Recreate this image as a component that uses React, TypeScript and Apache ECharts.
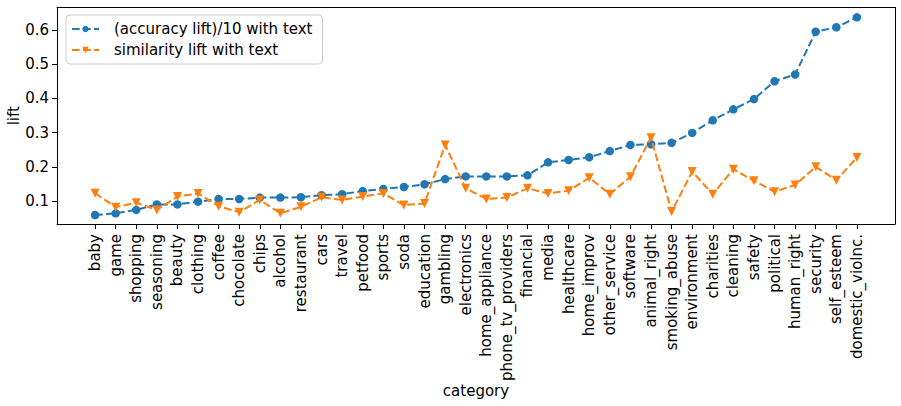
import React, { useEffect, useRef } from "react";
import * as echarts from "echarts";

const categories = [
  "baby", "game", "shopping", "seasoning", "beauty", "clothing", "coffee", "chocolate",
  "chips", "alcohol", "restaurant", "cars", "travel", "petfood", "sports", "soda",
  "education", "gambling", "electronics", "home_appliance", "phone_tv_providers", "financial",
  "media", "healthcare", "home_improv", "other_service", "software", "animal_right",
  "smoking_abuse", "environment", "charities", "cleaning", "safety", "political",
  "human_right", "security", "self_esteem", "domestic_violnc.",
];

const accuracyLift = [
  0.059, 0.064, 0.074, 0.090, 0.090, 0.098, 0.106, 0.106, 0.110, 0.110, 0.111, 0.117,
  0.120, 0.129, 0.135, 0.141, 0.149, 0.164, 0.172, 0.172, 0.172, 0.175, 0.213, 0.220,
  0.228, 0.246, 0.264, 0.266, 0.270, 0.299, 0.336, 0.368, 0.398, 0.450, 0.470, 0.595,
  0.608, 0.637,
];

const similarityLift = [
  0.123, 0.082, 0.095, 0.074, 0.113, 0.122, 0.085, 0.067, 0.103, 0.064, 0.083, 0.111,
  0.103, 0.113, 0.122, 0.088, 0.093, 0.264, 0.137, 0.106, 0.110, 0.137, 0.122, 0.130,
  0.168, 0.120, 0.171, 0.285, 0.069, 0.186, 0.120, 0.193, 0.159, 0.127, 0.147, 0.200,
  0.161, 0.227,
];

const yTicks = [0.1, 0.2, 0.3, 0.4, 0.5, 0.6];

const FONT = "DejaVu Sans";
const BLUE = "#1f77b4";
const ORANGE = "#ff7f0e";

export default function App() {
  const ref = useRef<HTMLDivElement>(null);
  useEffect(() => {
    if (!ref.current) return;
    const chart = echarts.init(ref.current, undefined, { renderer: "svg" });
    const idx = categories.map((_, i) => i);
    const n = categories.length;
    const pad = (n - 1) * 0.05;
    chart.setOption({
      animation: false,
      backgroundColor: "#ffffff",
      textStyle: { fontFamily: FONT },
      grid: {
        left: 57,
        right: 6,
        top: 7.5,
        bottom: 182,
        containLabel: false,
        outerBoundsMode: "none",
      },
      legend: {
        left: 66,
        top: 15,
        orient: "vertical",
        itemWidth: 27,
        itemHeight: 8,
        itemGap: 5,
        padding: [6, 10, 6, 5],
        borderColor: "#cccccc",
        borderWidth: 1,
        borderRadius: 4,
        backgroundColor: "rgba(255,255,255,0.8)",
        textStyle: {
          fontSize: 15,
          color: "#000",
          fontFamily: FONT,
          lineHeight: 16,
          padding: [0, 0, 0, 10],
        },
        data: ["(accuracy lift)/10 with text", "similarity lift with text"],
      },
      xAxis: [
        {
          type: "value",
          min: -pad,
          max: n - 1 + pad,
          name: "category",
          nameLocation: "middle",
          nameGap: 159,
          nameMoveOverlap: false,
          nameTextStyle: { fontSize: 15, color: "#000", fontFamily: FONT },
          axisLine: { show: true, onZero: false, lineStyle: { color: "#000", width: 1 } },
          axisTick: { show: true, length: 5, lineStyle: { color: "#000" }, customValues: idx },
          axisLabel: {
            show: true,
            rotate: 90,
            margin: 10,
            fontSize: 15,
            color: "#000",
            fontFamily: FONT,
            customValues: idx,
            formatter: (v: number) => categories[Math.round(v)] ?? "",
          },
          splitLine: { show: false },
        },
        {
          type: "value",
          position: "top",
          min: -pad,
          max: n - 1 + pad,
          axisLine: { show: true, onZero: false, lineStyle: { color: "#000", width: 1 } },
          axisTick: { show: false },
          axisLabel: { show: false },
          splitLine: { show: false },
        },
      ],
      yAxis: [
        {
          type: "value",
          min: 0.03275,
          max: 0.6658,
          name: "lift",
          nameLocation: "middle",
          nameGap: 36,
          nameMoveOverlap: false,
          nameTextStyle: { fontSize: 15, color: "#000", fontFamily: FONT },
          axisLine: { show: true, onZero: false, lineStyle: { color: "#000", width: 1 } },
          axisTick: { show: true, length: 5, lineStyle: { color: "#000" }, customValues: yTicks },
          axisLabel: {
            show: true,
            margin: 8,
            fontSize: 15,
            color: "#000",
            fontFamily: FONT,
            customValues: yTicks,
            formatter: (v: number) => v.toFixed(1),
          },
          splitLine: { show: false },
        },
        {
          type: "value",
          position: "right",
          min: 0.03275,
          max: 0.6658,
          axisLine: { show: true, onZero: false, lineStyle: { color: "#000", width: 1 } },
          axisTick: { show: false },
          axisLabel: { show: false },
          splitLine: { show: false },
        },
      ],
      series: [
        {
          name: "(accuracy lift)/10 with text",
          type: "line",
          xAxisIndex: 0,
          yAxisIndex: 0,
          data: accuracyLift.map((v, i) => [i, v]),
          symbol: "circle",
          symbolSize: 8.5,
          showSymbol: true,
          color: BLUE,
          itemStyle: { color: BLUE },
          lineStyle: { color: BLUE, width: 2, type: [7.7, 3.3] },
          z: 2,
        },
        {
          name: "similarity lift with text",
          type: "line",
          xAxisIndex: 0,
          yAxisIndex: 0,
          data: similarityLift.map((v, i) => [i, v]),
          symbol: "triangle",
          symbolRotate: 180,
          symbolSize: 9,
          showSymbol: true,
          color: ORANGE,
          itemStyle: { color: ORANGE },
          lineStyle: { color: ORANGE, width: 2, type: [7.7, 3.3] },
          z: 3,
        },
      ],
    });
    return () => chart.dispose();
  }, []);
  return (
    <div
      ref={ref}
      style={{ position: "fixed", left: 0, top: 0, width: 901, height: 406, background: "#fff" }}
    />
  );
}
